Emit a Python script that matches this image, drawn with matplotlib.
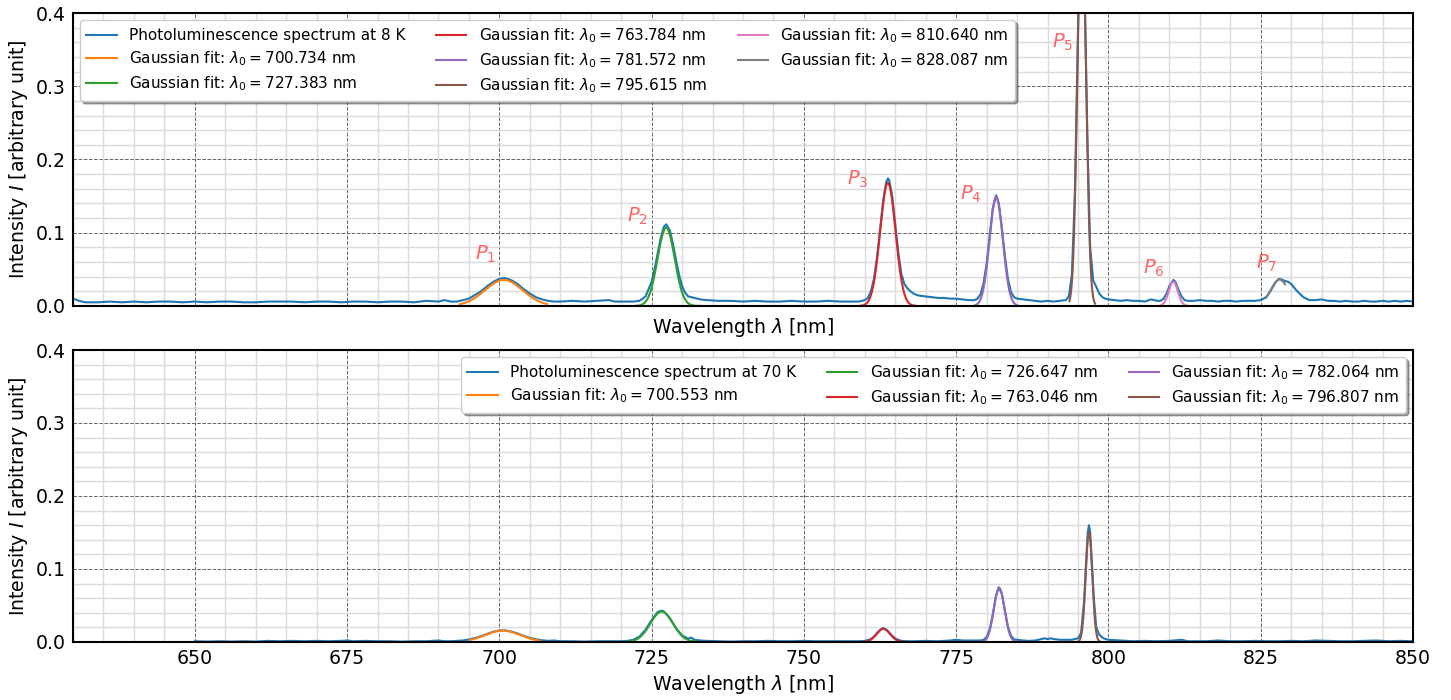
import numpy as np
import matplotlib
matplotlib.use('Agg')
import matplotlib.pyplot as plt
from matplotlib.ticker import MultipleLocator

# ---------------- data ----------------
wl_8K = [630, 631, 632, 634, 636, 638, 640, 642, 644, 646, 648, 650, 652, 654, 656, 658, 660,
         662, 664, 666, 668, 670, 672, 674, 676, 678, 680, 682, 684, 686, 688, 690, 691, 692,
         693, 694, 695, 696, 697, 698, 699, 700, 700.7, 701, 702, 703, 704, 705, 706, 707, 708, 709,
         710, 712, 714, 716, 718, 719, 720, 721, 722,
         723, 724, 725, 725.5, 726, 726.5, 727, 727.4, 728, 728.5, 729, 729.5, 730, 730.5, 731, 732, 733, 734,
         736, 738, 740, 742, 744, 746, 748, 750, 752, 754, 756, 758, 759,
         760, 760.5, 761, 761.5, 762, 762.5, 763, 763.5, 763.8, 764, 764.5, 765, 765.5, 766, 766.5, 767,
         767.5, 768, 768.5, 769, 770, 771, 772, 773, 774, 775, 776, 777, 778,
         778.5, 779, 779.5, 780, 780.5, 781, 781.57, 782, 782.5, 783, 783.5, 784, 784.5, 785, 786, 787,
         788, 789, 790, 791, 792, 793,
         793.5, 794, 794.5, 795, 795.3, 795.6, 795.9, 796.2, 796.5, 797, 797.5, 798, 798.5, 799, 799.5,
         800, 801, 802, 803, 804, 805, 806, 807, 808, 808.5,
         809, 809.5, 810, 810.65, 811, 811.5, 812, 812.5, 813, 814, 815, 816, 817, 818, 819, 820, 821,
         822, 823, 824, 825,
         825.5, 826, 826.5, 827, 827.5, 828, 828.5, 829, 829.5, 830, 830.5, 831, 831.5, 832, 832.5, 833,
         834, 835, 836, 837, 838, 839, 840, 841, 842, 843, 844, 845, 846, 847, 848, 849, 850]
I_8K = [0.010, 0.007, 0.005, 0.005, 0.006, 0.005, 0.006, 0.005, 0.006, 0.006, 0.005, 0.006, 0.005,
        0.006, 0.006, 0.005, 0.005, 0.006, 0.006, 0.006, 0.005, 0.006, 0.006, 0.005, 0.006, 0.006,
        0.005, 0.006, 0.006, 0.005, 0.007, 0.006, 0.008, 0.006,
        0.006, 0.008, 0.010, 0.015, 0.020, 0.027, 0.033, 0.037, 0.038, 0.038, 0.035, 0.030, 0.023,
        0.017, 0.012, 0.009, 0.007, 0.006,
        0.006, 0.007, 0.006, 0.007, 0.008, 0.006, 0.006, 0.006, 0.006,
        0.007, 0.013, 0.033, 0.051, 0.072, 0.093, 0.108, 0.1115, 0.103, 0.085, 0.063, 0.043, 0.027,
        0.018, 0.013, 0.011, 0.009, 0.008,
        0.007, 0.007, 0.006, 0.007, 0.006, 0.006, 0.007, 0.006, 0.006, 0.007, 0.006, 0.006, 0.006,
        0.008, 0.011, 0.020, 0.037, 0.066, 0.104, 0.143, 0.169, 0.174, 0.172, 0.150, 0.112, 0.073,
        0.044, 0.030, 0.024, 0.020, 0.017, 0.015, 0.014, 0.013, 0.012, 0.011, 0.011, 0.010, 0.010,
        0.009, 0.008, 0.008,
        0.010, 0.016, 0.031, 0.058, 0.096, 0.133, 0.151, 0.140, 0.107, 0.068, 0.037, 0.019, 0.012,
        0.010, 0.009, 0.008, 0.007, 0.006, 0.007, 0.006, 0.007, 0.008,
        0.013, 0.043, 0.157, 0.380, 0.499, 0.556, 0.499, 0.380, 0.238, 0.080, 0.035, 0.026, 0.017,
        0.012, 0.010, 0.009, 0.008, 0.007, 0.008, 0.007, 0.007, 0.006, 0.009, 0.007, 0.007,
        0.0095, 0.016, 0.027, 0.0355, 0.033, 0.022, 0.013, 0.008, 0.007, 0.007, 0.008, 0.007, 0.007,
        0.006, 0.007, 0.007, 0.006, 0.007, 0.007, 0.007, 0.008,
        0.010, 0.013, 0.019, 0.026, 0.033, 0.037, 0.036, 0.034, 0.033, 0.030, 0.025, 0.020, 0.016,
        0.012, 0.010, 0.008, 0.008, 0.009, 0.007, 0.007, 0.006, 0.007, 0.006, 0.006, 0.007, 0.006,
        0.006, 0.007, 0.006, 0.007, 0.006, 0.007, 0.006]

wl_70K = [650, 652, 654, 656, 658, 660, 662, 664, 666, 668, 670, 672, 674, 675, 676, 678, 680, 682,
          684, 686, 688, 690, 691, 692,
          693, 694, 695, 696, 697, 698, 699, 700, 701, 702, 703, 704, 705, 706, 707, 708, 709, 710,
          712, 714, 716, 718, 720,
          721, 722, 723, 724, 725, 726, 726.6, 727, 728, 729, 730, 731, 731.5, 732, 733, 734, 736,
          738, 740, 742, 744, 746, 748, 750, 752, 754, 756, 758, 759,
          760, 761, 761.5, 762, 762.5, 763, 763.5, 764, 764.5, 765, 766, 767, 768, 770, 772, 774, 775,
          776, 778,
          779, 779.5, 780, 780.5, 781, 781.5, 782, 782.5, 783, 783.5, 784, 784.5, 785, 786, 787, 788,
          789, 789.5, 790, 790.5, 791, 792, 793, 794,
          795, 795.5, 796, 796.3, 796.6, 796.8, 797, 797.3, 797.6, 798, 798.5, 799, 799.5, 800, 802,
          804, 806, 808, 810, 812, 813, 816, 818, 820, 822, 824, 826, 828, 830, 832, 834, 836, 838,
          840, 842, 844, 846, 848, 850]
I_70K = [0.001, 0.0005, 0.001, 0.0005, 0.001, 0.0005, 0.0015, 0.001, 0.0015, 0.001, 0.0015, 0.001,
         0.0015, 0.002, 0.001, 0.0015, 0.001, 0.001, 0.0005, 0.001, 0.001, 0.002, 0.001, 0.001,
         0.0015, 0.002, 0.0034, 0.0054, 0.008, 0.011, 0.014, 0.0157, 0.0158, 0.0142, 0.0115, 0.0084,
         0.0056, 0.0036, 0.0023, 0.0015, 0.002, 0.001, 0.001, 0.0005, 0.001, 0.001, 0.001,
         0.0014, 0.003, 0.0073, 0.0167, 0.030, 0.041, 0.043, 0.042, 0.0326, 0.019, 0.009, 0.0045,
         0.006, 0.003, 0.002, 0.0015, 0.001, 0.0005, 0.001, 0.001, 0.0015, 0.001, 0.001, 0.0015,
         0.001, 0.001, 0.001, 0.001, 0.001,
         0.0014, 0.004, 0.0075, 0.012, 0.0165, 0.019, 0.017, 0.013, 0.0085, 0.0046, 0.0015, 0.001,
         0.001, 0.0015, 0.001, 0.002, 0.003, 0.002, 0.002,
         0.002, 0.003, 0.0067, 0.017, 0.037, 0.062, 0.075, 0.066, 0.043, 0.021, 0.0084, 0.0036,
         0.003, 0.002, 0.0015, 0.002, 0.004, 0.005, 0.004, 0.005, 0.004, 0.003, 0.003, 0.003,
         0.005, 0.012, 0.055, 0.105, 0.150, 0.160, 0.150, 0.105, 0.060, 0.020, 0.010, 0.006, 0.004,
         0.003, 0.002, 0.001, 0.0015, 0.001, 0.0015, 0.003, 0.001, 0.001, 0.002, 0.001, 0.001,
         0.0015, 0.001, 0.001, 0.0015, 0.001, 0.002, 0.0015, 0.001, 0.001, 0.0015, 0.002, 0.001,
         0.0015, 0.001]

# Gaussian fit parameters, 8 K
fit8_center = [700.734, 727.383, 763.784, 781.572, 795.615, 810.640, 828.087]
fit8_amp = [0.0355, 0.107, 0.168, 0.149, 0.55, 0.033, 0.036]
fit8_sigma = [3.1, 1.40, 1.26, 1.09, 0.68, 0.75, 1.45]
fit8_lo = [693.5, 722.3, 759.2, 778.1, 793.6, 808.4, 825.9]
fit8_hi = [707.8, 733.4, 768.5, 785.0, 797.8, 813.1, 829.0]

# Gaussian fit parameters, 70 K
fit70_center = [700.553, 726.647, 763.046, 782.064, 796.807]
fit70_amp = [0.0155, 0.0416, 0.018, 0.074, 0.151]
fit70_sigma = [2.9, 1.86, 1.1, 0.88, 0.54]
fit70_lo = [695.2, 720.9, 759.8, 779.5, 794.8]
fit70_hi = [706.7, 732.4, 766.6, 784.9, 798.9]

# peak annotations (top panel)
peak_names = ['$P_1$', '$P_2$', '$P_3$', '$P_4$', '$P_5$', '$P_6$', '$P_7$']
peak_label_x = [696.0, 721.0, 757.0, 775.6, 790.7, 805.6, 824.2]
peak_label_y = [0.063, 0.115, 0.166, 0.1447, 0.352, 0.0446, 0.0515]

# ---------------- plotting ----------------
colors = plt.rcParams['axes.prop_cycle'].by_key()['color']

fig = plt.figure(figsize=(14.51, 7.0), dpi=100)
ax1 = fig.add_axes([0.0503, 0.5629, 0.9235, 0.4185])
ax2 = fig.add_axes([0.0503, 0.0829, 0.9235, 0.4171])

FS = 13.6


def style(ax):
    ax.set_xlim(630, 850)
    ax.set_ylim(0, 0.4)
    ax.xaxis.set_major_locator(MultipleLocator(25))
    ax.xaxis.set_minor_locator(MultipleLocator(5))
    ax.yaxis.set_major_locator(MultipleLocator(0.1))
    ax.yaxis.set_minor_locator(MultipleLocator(0.02))
    ax.grid(which='minor', linestyle='-', color='0.86', linewidth=1.0)
    ax.grid(which='major', linestyle='--', color='0.4', linewidth=0.7)
    for s in ax.spines.values():
        s.set_linewidth(1.5)
        s.set_color('black')
    ax.tick_params(which='both', direction='in', labelsize=FS)
    ax.tick_params(which='minor', length=0)
    ax.tick_params(which='major', length=0, pad=5)
    ax.set_xlabel(r'Wavelength $\lambda$ [nm]', fontsize=FS)
    ax.set_ylabel(r'Intensity $I$ [arbitrary unit]', fontsize=FS)


def gauss_curve(c, a, s, lo, hi):
    x = np.linspace(lo, hi, 300)
    return x, a * np.exp(-(x - c) ** 2 / (2 * s ** 2))


style(ax1)
style(ax2)
ax1.tick_params(labelbottom=False)

ax1.plot(wl_8K, I_8K, color=colors[0], lw=1.5, label='Photoluminescence spectrum at 8 K')
for i, (c, a, s, lo, hi) in enumerate(zip(fit8_center, fit8_amp, fit8_sigma, fit8_lo, fit8_hi)):
    x, y = gauss_curve(c, a, s, lo, hi)
    ax1.plot(x, y, color=colors[(i + 1) % 10], lw=1.5,
             label=r'Gaussian fit: $\lambda_0 = %.3f$ nm' % c)
for name, tx, ty in zip(peak_names, peak_label_x, peak_label_y):
    ax1.text(tx, ty, name, color='red', alpha=0.6, fontsize=14)

ax2.plot(wl_70K, I_70K, color=colors[0], lw=1.5, label='Photoluminescence spectrum at 70 K')
for i, (c, a, s, lo, hi) in enumerate(zip(fit70_center, fit70_amp, fit70_sigma, fit70_lo, fit70_hi)):
    x, y = gauss_curve(c, a, s, lo, hi)
    ax2.plot(x, y, color=colors[(i + 1) % 10], lw=1.5,
             label=r'Gaussian fit: $\lambda_0 = %.3f$ nm' % c)

ax1.legend(loc='upper left', ncol=3, fontsize=11, shadow=True, fancybox=True,
           labelspacing=0.42, borderaxespad=0.45)
ax2.legend(loc='upper right', ncol=3, fontsize=11, shadow=True, fancybox=True,
           labelspacing=0.42, borderaxespad=0.45)

fig.savefig('out.png', dpi=100)
